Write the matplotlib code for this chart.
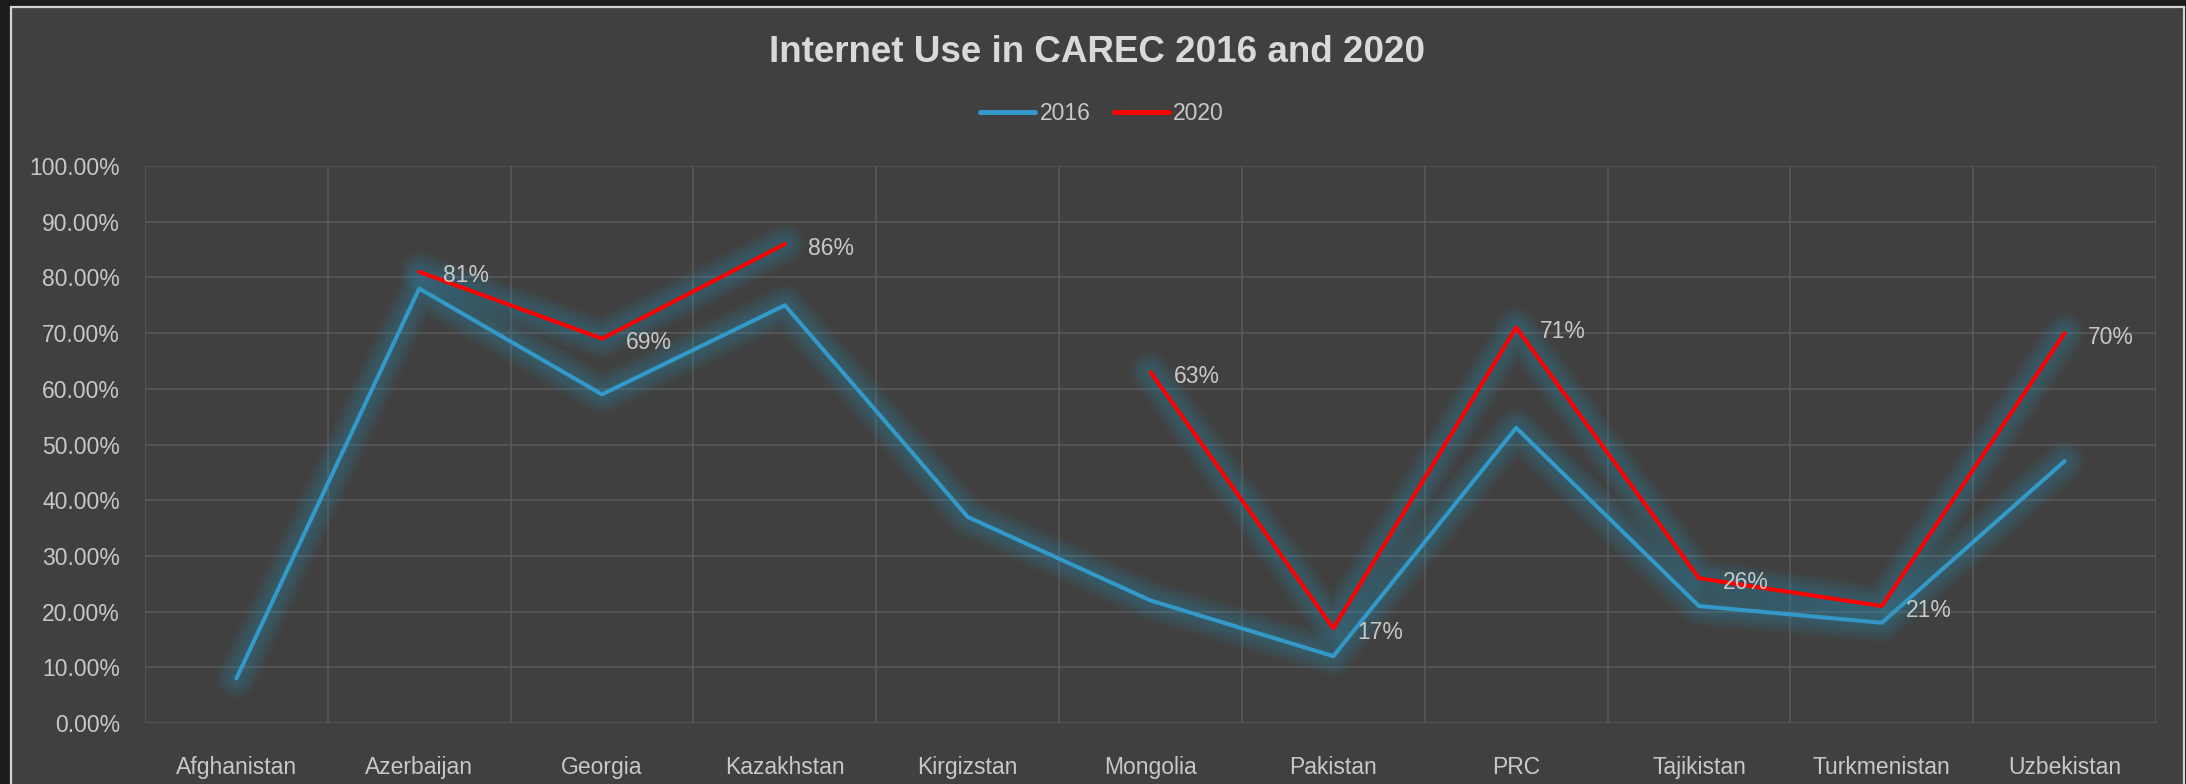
import matplotlib
matplotlib.use("Agg")
from matplotlib import pyplot as plt
from matplotlib import patheffects as pe
from matplotlib.patches import Rectangle
from matplotlib.ticker import FuncFormatter
import numpy as np

countries = ["Afghanistan", "Azerbaijan", "Georgia", "Kazakhstan", "Kirgizstan", "Mongolia",
             "Pakistan", "PRC", "Tajikistan", "Turkmenistan", "Uzbekistan"]
use_2016 = [8, 78, 59, 75, 37, 22, 12, 53, 21, 18, 47]
use_2020 = [np.nan, 81, 69, 86, np.nan, 63, 17, 71, 26, 21, 70]
yticks = [0, 10, 20, 30, 40, 50, 60, 70, 80, 90, 100]

W, H = 2186, 784
dpi = 100
plt.rcParams['font.family'] = ['Liberation Sans', 'DejaVu Sans']
txt_color = '#c8c8c8'

fig = plt.figure(figsize=(W / dpi, H / dpi), dpi=dpi, facecolor='#1c1c1c')
# chart area with light frame
fig.patches.append(Rectangle((11 / W, -0.05), (2184 - 11) / W, (784 - 7) / H + 0.05,
                             transform=fig.transFigure, facecolor='#404040',
                             edgecolor='#d4d4d4', linewidth=1.6, zorder=0))

ax = fig.add_axes([145 / W, (H - 723) / H, (2156 - 145) / W, (723 - 166) / H])
ax.set_facecolor('none')
ax.set_zorder(2)

x = np.arange(len(countries))

# soft glow around lines, like the excel glow effect
def glow(n=10, base=3, step=2.6, col='#3592b8', a=0.045):
    effects = []
    for i in range(n, 0, -1):
        effects.append(pe.Stroke(linewidth=base + i * step, foreground=col, alpha=a))
    effects.append(pe.Normal())
    return effects

ax.plot(x, use_2016, color='#3399c8', lw=2.9, solid_capstyle='round',
        label='2016', path_effects=glow(), zorder=3)
ax.plot(x, use_2020, color='#ff0000', lw=2.9, solid_capstyle='round',
        label='2020', path_effects=glow(), zorder=4)

for xi, v in zip(x, use_2020):
    if not np.isnan(v):
        ax.annotate('{:.0f}%'.format(v), (xi, v), xytext=(17, -3), textcoords='offset points',
                    ha='left', va='center', fontsize=16.5, color=txt_color, zorder=5)

ax.set_xlim(-0.5, len(countries) - 0.5)
ax.set_ylim(0, 100)
ax.set_yticks(yticks)
ax.yaxis.set_major_formatter(FuncFormatter(lambda v, p: '{:.2f}%'.format(v)))
ax.set_xticks(x)
ax.set_xticklabels(countries)
ax.set_xticks(np.arange(-0.5, len(countries), 1), minor=True)
ax.tick_params(axis='both', which='both', length=0, colors=txt_color, labelsize=16.5)
ax.tick_params(axis='x', pad=24)
ax.tick_params(axis='y', pad=18)
ax.grid(axis='y', which='major', color='#595959', lw=1.2)
ax.grid(axis='x', which='minor', color='#595959', lw=1.2)
ax.grid(axis='x', which='major', visible=False)
for s in ax.spines.values():
    s.set_visible(False)
ax.set_axisbelow(True)

fig.text(0.502, 1 - 53 / H, 'Internet Use in CAREC 2016 and 2020', ha='center', va='center',
         fontsize=26.5, fontweight='bold', color='#d9d9d9')

leg = fig.legend(loc='center', bbox_to_anchor=(1102 / W, 1 - 114 / H), ncol=2, frameon=False,
                 fontsize=16.5, handlelength=2.4, handletextpad=0.2, columnspacing=1.0)
for t in leg.get_texts():
    t.set_color(txt_color)
for h in leg.legend_handles:
    h.set_path_effects([pe.Normal()])
    h.set_linewidth(3.6)

fig.savefig('out.png', dpi=dpi, facecolor=fig.get_facecolor())
